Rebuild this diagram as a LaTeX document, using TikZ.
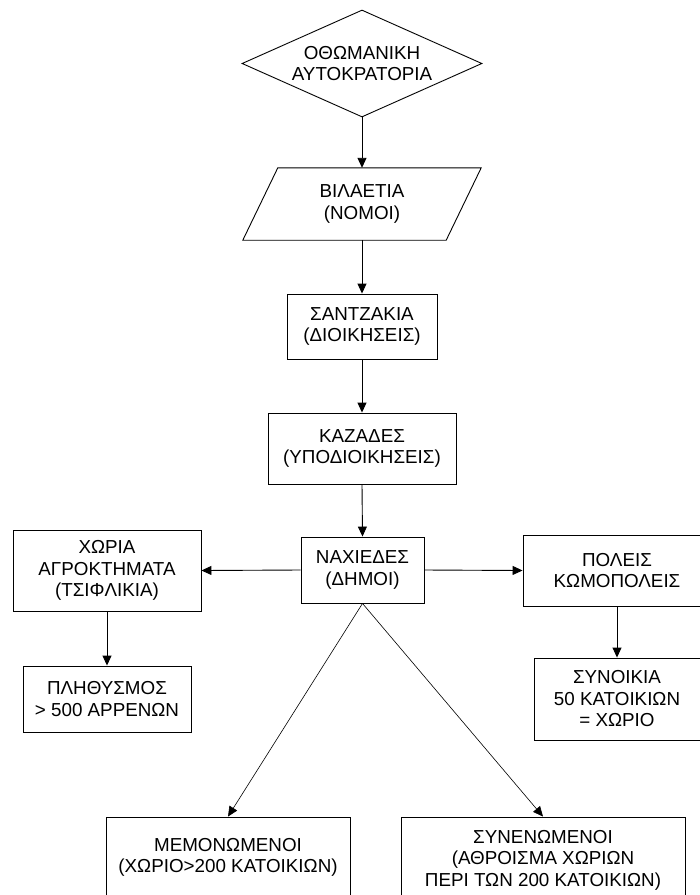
\documentclass[tikz,border=0pt]{standalone}
\usepackage{fontspec}
\setmainfont{Liberation Sans}
\usetikzlibrary{shapes.geometric,arrows.meta}

\begin{document}
\begin{tikzpicture}[x=1bp,y=-1bp,
        font=\fontsize{18.8bp}{21.5bp}\selectfont,
        box/.style={draw,line width=0.9bp,align=center,inner sep=0pt},
        flow/.style={line width=0.9bp,-{Triangle[length=10bp,width=9bp]}}]
        \useasboundingbox (0,0) rectangle (700,895);
        %% empire and provinces
        \node[box,diamond,aspect=2.24,minimum width=240bp,minimum height=107bp] (empire) at (362,63.5) {ΟΘΩΜΑΝΙΚΗ\\ΑΥΤΟΚΡΑΤΟΡΙΑ};
        \node[align=center,inner sep=0pt,minimum width=168bp,minimum height=72bp] (vilaetia) at (362,204) {ΒΙΛΑΕΤΙΑ\\(ΝΟΜΟΙ)};
        \draw[line width=0.9bp] ([xshift=-35bp]vilaetia.south west) -- (vilaetia.north west) -- ([xshift=35bp]vilaetia.north east) -- (vilaetia.south east) -- cycle;
        \node[box,minimum width=150bp,minimum height=65bp] (santzakia) at (362,326.5) {ΣΑΝΤΖΑΚΙΑ\\(ΔΙΟΙΚΗΣΕΙΣ)};
        \node[box,minimum width=188bp,minimum height=71bp] (kazades) at (362,448.5) {ΚΑΖΑΔΕΣ\\(ΥΠΟΔΙΟΙΚΗΣΕΙΣ)};
        \node[box,minimum width=123bp,minimum height=66bp] (naxiedes) at (362.5,570) {ΝΑΧΙΕΔΕΣ\\(ΔΗΜΟΙ)};
        %% left and right branches
        \node[box,minimum width=188bp,minimum height=81bp] (xoria) at (107,570.5) {ΧΩΡΙΑ\\ΑΓΡΟΚΤΗΜΑΤΑ\\(ΤΣΙΦΛΙΚΙΑ)};
        \node[box,minimum width=168bp,minimum height=66bp] (plithysmos) at (107,699) {ΠΛΗΘΥΣΜΟΣ\\> 500 ΑΡΡΕΝΩΝ};
        \node[box,minimum width=188bp,minimum height=71bp] (poleis) at (617,570.5) {ΠΟΛΕΙΣ\\ΚΩΜΟΠΟΛΕΙΣ};
        \node[box,minimum width=166bp,minimum height=82bp] (synoikia) at (617,699) {ΣΥΝΟΙΚΙΑ\\50 ΚΑΤΟΙΚΙΩΝ\\= ΧΩΡΙΟ};
        %% bottom row
        \node[box,minimum width=244bp,minimum height=81bp] (memonomenoi) at (228,857.5) {ΜΕΜΟΝΩΜΕΝΟΙ\\(ΧΩΡΙΟ>200 ΚΑΤΟΙΚΙΩΝ)};
        \node[box,minimum width=284bp,minimum height=86bp] (synenomenoi) at (543,860) {ΣΥΝΕΝΩΜΕΝΟΙ\\(ΑΘΡΟΙΣΜΑ ΧΩΡΙΩΝ\\ΠΕΡΙ ΤΩΝ 200 ΚΑΤΟΙΚΙΩΝ)};
        %% arrows
        \draw[flow] (empire.south) -- (vilaetia.north);
        \draw[flow] (vilaetia.south) -- (santzakia.north);
        \draw[flow] (santzakia.south) -- (kazades.north);
        \draw[flow] (kazades.south) -- (naxiedes.north);
        \draw[flow] (naxiedes.west) -- (xoria.east);
        \draw[flow] (naxiedes.east) -- (poleis.west);
        \draw[flow] (xoria.south) -- (plithysmos.north);
        \draw[flow] (poleis.south) -- (synoikia.north);
        \draw[flow,line width=0.6bp] (naxiedes.south) -- (memonomenoi.north);
        \draw[flow,line width=0.6bp] (naxiedes.south) -- (synenomenoi.north);
    \end{tikzpicture}
\end{document}
